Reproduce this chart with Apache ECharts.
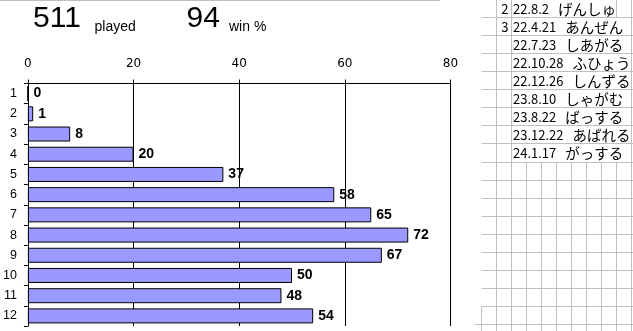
<!DOCTYPE html>
<html>
<head>
<meta charset="utf-8">
<script src="https://cdn.jsdelivr.net/npm/echarts@6/dist/echarts.min.js"></script>
<style>
  html, body { margin: 0; padding: 0; background: #fff; }
  #chart { width: 633px; height: 331px; }
</style>
</head>
<body>
<div id="chart"></div>
<script>
// Guess-count distribution
const guessLabels = ['1', '2', '3', '4', '5', '6', '7', '8', '9', '10', '11', '12'];
const gameCounts = [0, 1, 8, 20, 37, 58, 65, 72, 67, 50, 48, 54];
const axisMin = 0;
const axisMax = 80;
const axisStep = 20;

// Summary figures
const playedCount = 511;
const winPercent = 94;

// Side list of dated words
const listNums = ['2', '3', '', '', '', '', '', '', ''];
const listDates = ['22.8.2', '22.4.21', '22.7.23', '22.10.28', '22.12.26', '23.8.10', '23.8.22', '23.12.22', '24.1.17'];
const listWords = ['げんしゅ', 'あんぜん', 'しあがる', 'ふひょう', 'しんずる', 'しゃがむ', 'ばっする', 'あばれる', 'がっする'];

const chart = echarts.init(document.getElementById('chart'), null, { renderer: 'canvas' });

// ---- sheet grid on the right ----
const cellLine = '#c0c0c0';
const colX0 = 481.5, colW = 15, colCount = 11;
const rowH = 18.06;
const rowTop = r => Math.round(-1 + rowH * r);
const dateFont = '13px "Noto Sans CJK JP"';
const wordFont = '14.5px "Noto Sans CJK JP"';
const textStartX = 513;
const wordGap = 9;

const measureCtx = document.createElement('canvas').getContext('2d');
function textWidth(str, font) {
  measureCtx.font = font;
  return measureCtx.measureText(str).width;
}

const sheet = [];
// horizontal cell borders
for (let k = 1; k <= 18; k++) {
  const y = rowTop(k) + 0.5;
  sheet.push({
    type: 'line', silent: true,
    shape: { x1: k === 18 ? 475 : colX0, y1: y, x2: 633, y2: y },
    style: { stroke: cellLine, lineWidth: 1 }
  });
}
// vertical cell borders, hidden where a row's text runs across them
const textEnds = listDates.map((d, i) =>
  textStartX + textWidth(d, dateFont) + wordGap + textWidth(listWords[i], wordFont));
for (let j = 0; j < colCount; j++) {
  const x = colX0 + colW * j;
  for (let r = 0; r < 19; r++) {
    const y1 = rowTop(r) + 0.5;
    const y2 = r === 18 ? 331 : rowTop(r + 1) + 0.5;
    if (j === 0 && r < 17) continue;
    if (r < listDates.length && x > textStartX && x < textEnds[r]) continue;
    sheet.push({
      type: 'line', silent: true,
      shape: { x1: x, y1: y1, x2: x, y2: y2 },
      style: { stroke: cellLine, lineWidth: 1 }
    });
  }
}
// list text
listDates.forEach((d, i) => {
  const cy = (rowTop(i) + rowTop(i + 1)) / 2 + 1;
  if (listNums[i]) {
    sheet.push({
      type: 'text', silent: true, x: 508.5, y: cy,
      style: { text: listNums[i], font: dateFont, fill: '#000', align: 'right', verticalAlign: 'middle' }
    });
  }
  sheet.push({
    type: 'text', silent: true, x: textStartX, y: cy,
    style: { text: d, font: dateFont, fill: '#000', align: 'left', verticalAlign: 'middle' }
  });
  sheet.push({
    type: 'text', silent: true, x: textStartX + textWidth(d, dateFont) + wordGap, y: cy,
    style: { text: listWords[i], font: wordFont, fill: '#000', align: 'left', verticalAlign: 'middle' }
  });
});

// ---- headline numbers ----
const headline = [
  { type: 'text', silent: true, x: 33, y: 18.5,
    style: { text: String(playedCount), font: '30px "Liberation Sans", Arial, sans-serif', fill: '#000', verticalAlign: 'middle' } },
  { type: 'text', silent: true, x: 94.5, y: 27.5,
    style: { text: 'played', font: '14px "Liberation Sans", Arial, sans-serif', fill: '#000', verticalAlign: 'middle' } },
  { type: 'text', silent: true, x: 186.5, y: 18.5,
    style: { text: String(winPercent), font: '30px "Liberation Sans", Arial, sans-serif', fill: '#000', verticalAlign: 'middle' } },
  { type: 'text', silent: true, x: 229, y: 27.5,
    style: { text: 'win %', font: '14px "Liberation Sans", Arial, sans-serif', fill: '#000', verticalAlign: 'middle' } },
  { type: 'line', silent: true, shape: { x1: 0, y1: 0.5, x2: 440, y2: 0.5 },
    style: { stroke: cellLine, lineWidth: 1 } }
];

chart.setOption({
  backgroundColor: '#fff',
  animation: false,
  grid: { left: 27.5, right: 182.5, top: 83.5, bottom: 5 },
  xAxis: {
    type: 'value',
    position: 'top',
    min: axisMin,
    max: axisMax,
    interval: axisStep,
    axisLine: { show: true, lineStyle: { color: '#000', width: 1 } },
    axisTick: { show: true, length: 4, lineStyle: { color: '#000' } },
    axisLabel: { color: '#000', fontFamily: '"DejaVu Sans", sans-serif', fontSize: 12, margin: 14 },
    splitLine: { show: true, lineStyle: { color: '#000', width: 1 } }
  },
  yAxis: {
    type: 'category',
    inverse: true,
    data: guessLabels,
    axisLine: { show: true, lineStyle: { color: '#000', width: 1 } },
    axisTick: { show: true, length: 4, lineStyle: { color: '#000' } },
    axisLabel: { color: '#000', fontFamily: '"Liberation Sans Narrow", "Liberation Sans", sans-serif', fontSize: 12.5, margin: 11 }
  },
  series: [{
    type: 'bar',
    data: gameCounts,
    barWidth: 15,
    itemStyle: { color: '#9999ff', borderColor: '#000', borderWidth: 1 },
    label: {
      show: true,
      position: 'right',
      distance: 5,
      color: '#000',
      fontFamily: '"Liberation Sans", Arial, sans-serif',
      fontWeight: 'bold',
      fontSize: 14
    }
  }],
  graphic: headline.concat(sheet)
});
</script>
</body>
</html>
